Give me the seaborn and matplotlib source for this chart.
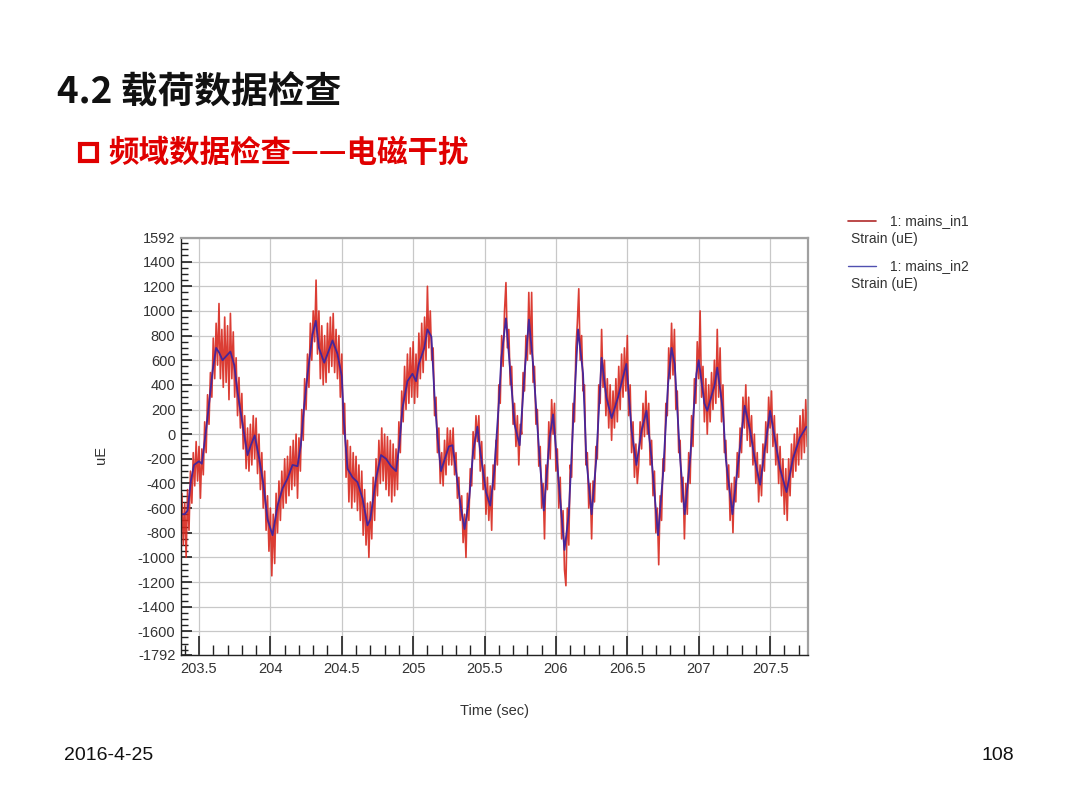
import matplotlib
matplotlib.use("Agg")
import matplotlib.pyplot as plt
from matplotlib.lines import Line2D
from matplotlib.patches import Rectangle
from matplotlib.ticker import MultipleLocator, FixedLocator
import numpy as np
import seaborn as sns

# ---- data ----
# mains_in2 (blue): key points of the cleaner channel
blue_t = [203.375, 203.40, 203.42, 203.443, 203.465, 203.50, 203.52, 203.548, 203.57, 203.595,
          203.62, 203.642, 203.665, 203.688, 203.72, 203.747, 203.77, 203.805, 203.84, 203.863,
          203.89, 203.922, 203.95, 203.98, 204.015, 204.05, 204.085, 204.12, 204.155, 204.19,
          204.213, 204.235, 204.26, 204.295, 204.318, 204.34, 204.377, 204.40, 204.435, 204.47,
          204.50, 204.515, 204.54, 204.575, 204.61, 204.645, 204.68, 204.70, 204.74, 204.775,
          204.81, 204.845, 204.88, 204.903, 204.925, 204.96, 204.995, 205.02, 205.04, 205.078,
          205.10, 205.128, 205.15, 205.171, 205.195, 205.222, 205.25, 205.276, 205.30, 205.335,
          205.36, 205.393, 205.42, 205.45, 205.47, 205.51, 205.54, 205.568, 205.60, 205.618,
          205.65, 205.676, 205.71, 205.746, 205.78, 205.811, 205.84, 205.886, 205.915, 205.956,
          205.98, 206.026, 206.06, 206.09, 206.12, 206.155, 206.19, 206.213, 206.25, 206.283,
          206.32, 206.353, 206.39, 206.435, 206.493, 206.53, 206.564, 206.60, 206.634, 206.67,
          206.715, 206.75, 206.785, 206.81, 206.832, 206.87, 206.902, 206.94, 206.984, 207.00,
          207.04, 207.06, 207.112, 207.13, 207.17, 207.19, 207.236, 207.28, 207.322, 207.36,
          207.392, 207.43, 207.462, 207.50, 207.532, 207.57, 207.615, 207.66, 207.708, 207.755]
blue_v = [-650, -650, -620, -380, -250, -220, -240, 20, 240, 510,
          700, 660, 600, 630, 670, 560, 340, 80, -170, -90,
          -10, -200, -400, -690, -820, -580, -440, -360, -250, -260,
          -90, 210, 480, 810, 920, 700, 580, 650, 760, 650,
          470, 100, -280, -350, -390, -520, -740, -690, -360, -170,
          -200, -260, -300, -90, 210, 430, 490, 430, 570, 700,
          850, 790, 300, -30, -300, -200, -100, -90, -300, -600,
          -770, -520, -140, 60, -140, -470, -580, -300, 250, 620,
          940, 570, 80, -90, 490, 930, 570, -200, -620, -30,
          160, -470, -940, -650, 80, 850, 490, -200, -650, -200,
          620, 300, 130, 300, 570, 30, -250, 30, 190, -200,
          -820, -330, 400, 700, 570, -200, -650, -200, 490, 600,
          250, 190, 400, 540, 190, -200, -650, -200, 230, 30,
          -200, -410, -130, 190, -30, -280, -470, -200, -30, 60]

# mains_in1 (red): noisy channel sampled every 10 ms from 203.37 s
red_start = 203.37
red_step = 0.01
red_v = [
    -700, -480, -900, -560, -1000, -450, -780, -300, -560, -150,
    -420, -60, -380, -100, -520, -120, -330, 100, -150, 320,
    80, 500, 300, 780, 450, 900, 560, 1060, 450, 850,
    380, 950, 420, 880, 280, 980, 450, 830, 300, 620,
    150, 460, 50, 330, -120, 150, -280, 50, -300, 80,
    -250, 150, -200, 130, -320, 0, -450, -150, -600, -300,
    -780, -500, -950, -600, -1150, -650, -1050, -480, -800, -380,
    -700, -300, -600, -200, -560, -180, -500, -100, -450, -50,
    -420, 0, -520, -30, -300, 200, -50, 450, 200, 650,
    380, 900, 600, 1000, 750, 1250, 650, 1000, 450, 880,
    400, 800, 420, 900, 500, 950, 550, 980, 500, 850,
    450, 800, 300, 650, 0, 250, -350, -50, -550, -100,
    -600, -150, -550, -180, -620, -250, -700, -300, -820, -450,
    -900, -560, -1000, -550, -850, -350, -700, -200, -500, -50,
    -400, 50, -380, 0, -450, -20, -500, -50, -550, -80,
    -500, -120, -450, 100, -150, 350, 100, 550, 200, 650,
    250, 700, 300, 750, 250, 650, 300, 820, 450, 900,
    500, 950, 600, 1200, 700, 1000, 600, 700, 150, 300,
    -150, 50, -400, -150, -420, -50, -330, 50, -250, 30,
    -250, 50, -330, -150, -520, -350, -700, -500, -880, -650,
    -1000, -480, -700, -280, -420, 20, -200, 150, -60, 150,
    -300, -60, -450, -250, -650, -350, -700, -420, -780, -250,
    -450, -50, -250, 400, 250, 800, 550, 1000, 1230, 700,
    850, 400, 550, 80, 250, -100, 150, -250, 80, 0,
    500, 350, 800, 600, 1150, 650, 1150, 420, 550, 80,
    200, -260, -100, -600, -400, -850, -250, -450, 100, -200,
    280, 0, 250, -300, -120, -600, -350, -850, -620, -1100,
    -1230, -600, -900, -250, -350, 250, 100, 700, 900, 1180,
    600, 800, 350, 400, -250, -150, -600, -400, -850, -380,
    -550, -100, -200, 400, 250, 850, 380, 600, 150, 450,
    50, 400, -50, 350, 50, 450, 100, 550, 200, 650,
    300, 700, 350, 800, 150, 400, -150, 100, -350, -80,
    -400, -250, 100, -120, 250, -20, 350, 0, 250, -250,
    -50, -500, -300, -800, -600, -1060, -500, -700, -200, -300,
    250, 150, 700, 450, 900, 480, 850, 200, 350, -150,
    -50, -550, -350, -850, -400, -650, -150, -400, 150, -100,
    450, 250, 750, 450, 1000, 300, 550, 100, 450, 0,
    400, 100, 500, 200, 600, 250, 850, 300, 700, 100,
    400, -150, -50, -450, -250, -700, -400, -800, -350, -550,
    -150, -350, 50, -150, 300, 50, 400, -50, 300, -100,
    150, -250, 0, -400, -150, -550, -250, -500, -80, -300,
    100, -150, 300, 50, 350, -100, 150, -250, 0, -400,
    -100, -500, -200, -650, -280, -700, -200, -500, -80, -350,
    0, -300, 50, -250, 150, -200, 200, -150, 280, -100, 200,
]
red_t = np.round(red_start + red_step * np.arange(len(red_v)), 2)

x_major = [203.5, 204, 204.5, 205, 205.5, 206, 206.5, 207, 207.5]
x_labels = ["203.5", "204", "204.5", "205", "205.5", "206", "206.5", "207", "207.5"]
y_major = [-1792, -1600, -1400, -1200, -1000, -800, -600, -400, -200, 0,
           200, 400, 600, 800, 1000, 1200, 1400, 1592]

RED = "#d8281e"
BLUE = "#46269a"

sns.set_style("white")
plt.rcParams["font.family"] = ["Liberation Sans", "Noto Sans CJK SC", "DejaVu Sans"]

fig = plt.figure(figsize=(10.8, 8.1), dpi=100)
ax = fig.add_axes([0.1676, 0.1914, 0.5806, 0.5148])

sns.lineplot(x=red_t, y=red_v, ax=ax, color=RED, lw=1.2, alpha=0.9,
             estimator=None, sort=False)
sns.lineplot(x=blue_t, y=blue_v, ax=ax, color=BLUE, lw=1.3, estimator=None, sort=False)

ax.set_xlim(203.374, 207.766)
ax.set_ylim(-1792, 1592)

ax.xaxis.set_major_locator(FixedLocator(x_major))
ax.set_xticklabels(x_labels)
ax.xaxis.set_minor_locator(MultipleLocator(0.1))
ax.set_yticks(y_major)
ax.set_yticklabels([str(v) for v in y_major])
ax.yaxis.set_minor_locator(MultipleLocator(50))

ax.tick_params(axis="both", which="both", direction="in", colors="#222222",
               labelsize=10.5, labelcolor="#333333")
ax.tick_params(axis="y", which="major", length=8, width=1.2, left=True, pad=4)
ax.tick_params(axis="y", which="minor", length=5, width=1.0, left=True)
ax.tick_params(axis="x", which="major", length=14, width=1.2, bottom=True, pad=5)
ax.tick_params(axis="x", which="minor", length=7, width=1.0, bottom=True)

ax.grid(True, which="major", color="#c8c8c8", lw=0.9)
ax.set_axisbelow(True)

for s in ["top", "right"]:
    ax.spines[s].set_color("#a0a0a0")
    ax.spines[s].set_linewidth(1.6)
for s in ["left", "bottom"]:
    ax.spines[s].set_color("#222222")
    ax.spines[s].set_linewidth(1.0)

ax.set_xlabel("Time (sec)", fontsize=10.5, color="#333333")
ax.set_ylabel("uE", fontsize=10.5, color="#333333")
ax.xaxis.set_label_coords(0.50, -0.118)
ax.yaxis.set_label_coords(-0.116, 0.48)

# legend drawn like the original tool's side panel
W, H = 1080.0, 810.0
fig.add_artist(Line2D([848 / W, 876 / W], [1 - 221 / H, 1 - 221 / H], color="#b02a2a", lw=1.2))
fig.text(890 / W, 1 - 221 / H, "1: mains_in1", fontsize=10, color="#333333", va="center")
fig.text(851 / W, 1 - 239 / H, "Strain (uE)", fontsize=10, color="#333333", va="center")
fig.add_artist(Line2D([848 / W, 876 / W], [1 - 266 / H, 1 - 266 / H], color="#5050b0", lw=1.0))
fig.text(890 / W, 1 - 266 / H, "1: mains_in2", fontsize=10, color="#333333", va="center")
fig.text(851 / W, 1 - 284 / H, "Strain (uE)", fontsize=10, color="#333333", va="center")

# slide title and subtitle
fig.text(57 / W, 1 - 93 / H, "4.2 载荷数据检查", fontsize=26.5, fontweight="bold",
         color="#111111", va="center", family=["Noto Sans CJK SC", "DejaVu Sans"])
fig.add_artist(Rectangle((80 / W, 1 - 161 / H), 17 / W, 17 / H, fill=False,
                         edgecolor="#e00000", lw=3.0, transform=fig.transFigure))
fig.text(108 / W, 1 - 153 / H, "频域数据检查——电磁干扰", fontsize=22, fontweight="bold",
         color="#e00000", va="center", family=["Noto Sans CJK SC", "DejaVu Sans"])

# footer
fig.text(64 / W, 1 - 755 / H, "2016-4-25", fontsize=14, color="#111111", va="center")
fig.text(1014 / W, 1 - 755 / H, "108", fontsize=14, color="#111111", va="center", ha="right")

fig.savefig("out.png", dpi=100)
